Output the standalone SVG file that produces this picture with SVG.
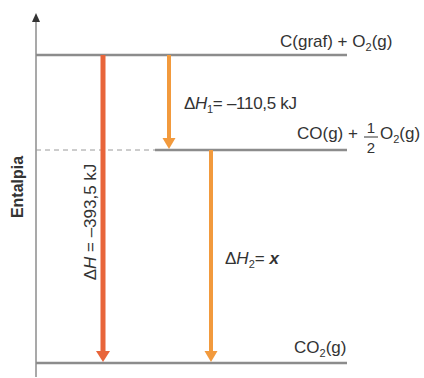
<svg xmlns="http://www.w3.org/2000/svg" width="424" height="378" viewBox="0 0 424 378">
<style>
.lvl{stroke:#8c8c8c;stroke-width:2.5;fill:none}
.dash{stroke:#9a9a9a;stroke-width:1;stroke-dasharray:5 4;fill:none}
.axis{stroke:#8c8c8c;stroke-width:1.5;fill:none}
.t{font-family:"Liberation Sans",Arial,sans-serif;font-size:17px;fill:#333}
.sub{font-size:11px}
.fr{font-size:15px}
.it{font-style:italic}
.red{stroke:#E8653A;stroke-width:5;fill:none}
.org{stroke:#F29A3D;stroke-width:4;fill:none}
.ylab{font-family:"Liberation Sans",Arial,sans-serif;font-size:16px;font-weight:bold;fill:#333}
</style>
<defs>
<marker id="hr" viewBox="0 -7 11 14" markerWidth="11" markerHeight="14" refX="0" refY="0" markerUnits="userSpaceOnUse" orient="auto"><path d="M0,-7 L11,0 L0,7 z" fill="#E8653A"/></marker>
<marker id="ho" viewBox="0 -7 11 14" markerWidth="11" markerHeight="14" refX="0" refY="0" markerUnits="userSpaceOnUse" orient="auto"><path d="M0,-6.5 L11,0 L0,6.5 z" fill="#F29A3D"/></marker>
<marker id="ha" viewBox="0 -4 9 8" markerWidth="9" markerHeight="8" refX="0" refY="0" markerUnits="userSpaceOnUse" orient="auto"><path d="M0,-4 L9,0 L0,4 z" fill="#333"/></marker>
</defs>
<g id="axis">
<line class="axis" x1="36" y1="377" x2="36" y2="22" marker-end="url(#ha)"/>
<text class="ylab" transform="translate(23,187) rotate(-90)" text-anchor="middle">Entalpia</text>
</g>
<g id="level-top">
<line class="lvl" x1="36" y1="55" x2="347" y2="55"/>
<text class="t" x="280" y="47">C(graf) + O<tspan class="sub" dy="4">2</tspan><tspan dy="-4">(g)</tspan></text>
</g>
<g id="level-mid">
<line class="dash" x1="36" y1="150" x2="155" y2="150"/>
<line class="lvl" x1="155" y1="150" x2="347" y2="150"/>
<text class="t" x="297" y="139">CO(g) +</text>
<text class="t fr" x="371" y="133" text-anchor="middle">1</text>
<line x1="364" y1="137" x2="378" y2="137" stroke="#333" stroke-width="1"/>
<text class="t fr" x="371" y="153" text-anchor="middle">2</text>
<text class="t" x="380" y="139">O<tspan class="sub" dy="4">2</tspan><tspan dy="-4">(g)</tspan></text>
</g>
<g id="level-bottom">
<line class="lvl" x1="36" y1="363" x2="347" y2="363"/>
<text class="t" x="294" y="353">CO<tspan class="sub" dy="4">2</tspan><tspan dy="-4">(g)</tspan></text>
</g>
<g id="connectors">
<line class="red" x1="103" y1="55" x2="103" y2="351" marker-end="url(#hr)"/>
<line class="org" x1="169" y1="55" x2="169" y2="138" marker-end="url(#ho)"/>
<line class="org" x1="211" y1="150" x2="211" y2="351" marker-end="url(#ho)"/>
</g>
<g id="labels">
<text class="t" font-size="16" transform="translate(96,222) rotate(-90)" text-anchor="middle">Δ<tspan class="it">H</tspan> = –393,5 kJ</text>
<text class="t" x="184" y="109" textLength="113">Δ<tspan class="it">H</tspan><tspan class="sub" dy="4">1</tspan><tspan dy="-4">= –110,5 kJ</tspan></text>
<text class="t" x="225" y="264">Δ<tspan class="it">H</tspan><tspan class="sub" dy="4">2</tspan><tspan dy="-4">= </tspan><tspan class="it" font-weight="bold">x</tspan></text>
</g>
</svg>
